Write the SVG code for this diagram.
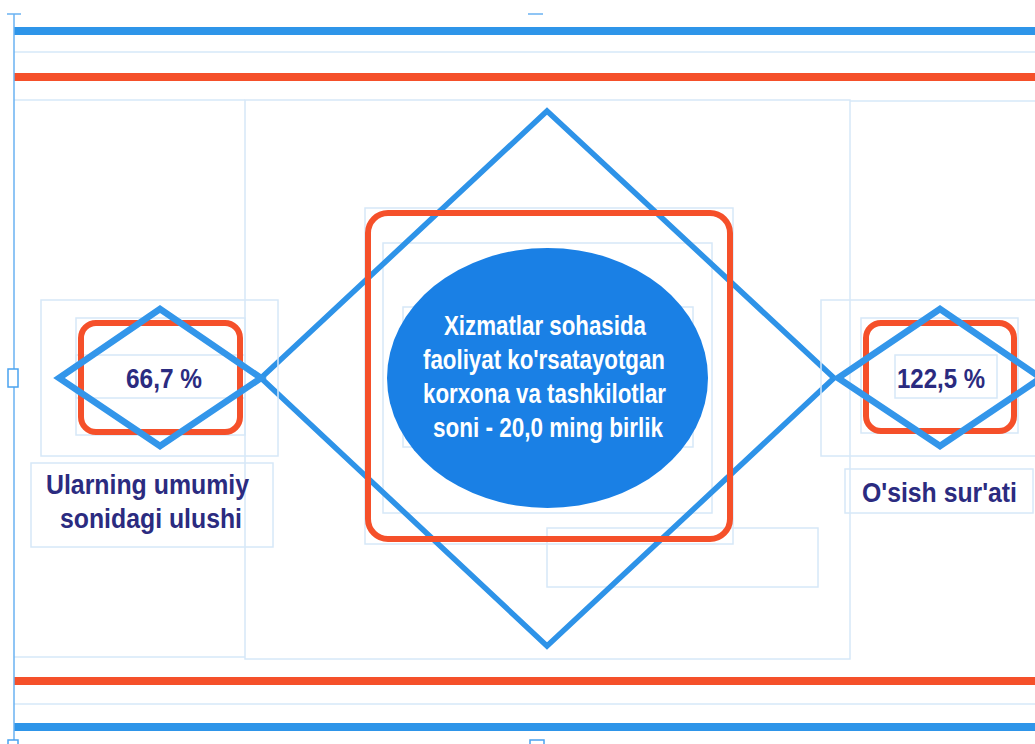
<svg xmlns="http://www.w3.org/2000/svg" width="1035" height="744" viewBox="0 0 1035 744">
<style>
.guide{fill:none;stroke:#d6e8f8;stroke-width:1.5}
.sel{fill:none;stroke:#6ab2f2;stroke-width:1.5}
.blue{fill:none;stroke:#2e93e8;stroke-width:5.5;stroke-linejoin:miter}
.blue2{fill:none;stroke:#3396ea;stroke-width:6.5;stroke-linejoin:miter}
.red{fill:none;stroke:#f5502a;stroke-width:6}
.num{font-family:"Liberation Sans",Arial,sans-serif;font-weight:bold;fill:#2b2b80;text-anchor:middle}
.cap{font-family:"Liberation Sans",Arial,sans-serif;font-weight:bold;fill:#2b2b80;font-size:27px}
.wt{font-family:"Liberation Sans",Arial,sans-serif;font-weight:bold;fill:#ffffff;font-size:27px}
</style>
<rect width="1035" height="744" fill="#ffffff"/>
<g id="frame">
<line x1="14" y1="52" x2="1035" y2="52" class="guide" stroke-width="3"/>
<line x1="14" y1="100" x2="245" y2="100" class="guide" stroke-width="2.5"/>
<line x1="850" y1="101" x2="1035" y2="101" class="guide" stroke-width="2.5"/>
<line x1="14" y1="657" x2="245" y2="657" class="guide" stroke-width="2.5"/>
<line x1="14" y1="704" x2="1035" y2="704" class="guide" stroke-width="3"/>
<rect x="14" y="27" width="1021" height="8" fill="#2e95e9"/>
<rect x="14" y="73" width="1021" height="8" fill="#f5502a"/>
<rect x="14" y="677" width="1021" height="8" fill="#f5502a"/>
<rect x="14" y="723" width="1021" height="8" fill="#2e95e9"/>
<line x1="14" y1="14" x2="14" y2="744" class="sel"/>
<line x1="7" y1="14" x2="21" y2="14" class="sel" stroke-width="2"/>
<line x1="528" y1="14" x2="543" y2="14" class="sel" stroke-width="2"/>
<rect x="8" y="369" width="10" height="18" fill="#ffffff" stroke="#4aa3ef" stroke-width="1.5"/>
<rect x="8" y="740" width="10" height="8" fill="#ffffff" stroke="#4aa3ef" stroke-width="1.5"/>
<rect x="530" y="740" width="14" height="8" fill="#ffffff" stroke="#4aa3ef" stroke-width="1.5"/>
</g>
<g id="center">
<rect x="245" y="100" width="605" height="559" class="guide"/>
<rect x="365" y="208" width="368" height="336" class="guide"/>
<rect x="383" y="243" width="329" height="270" class="guide"/>
<rect x="403" y="307" width="290" height="140" class="guide"/>
<rect x="547" y="528" width="271" height="59" class="guide"/>
<polygon points="547,111 834,378 547,646 261,378" class="blue"/>
<rect x="368" y="213" width="362" height="326" rx="20" class="red"/>
<ellipse cx="547.5" cy="378" rx="160.5" ry="130" fill="#1a80e5"/>
<text class="wt" x="444" y="335" textLength="202" lengthAdjust="spacingAndGlyphs">Xizmatlar sohasida</text>
<text class="wt" x="423" y="369" textLength="242" lengthAdjust="spacingAndGlyphs">faoliyat ko'rsatayotgan</text>
<text class="wt" x="423" y="403" textLength="243" lengthAdjust="spacingAndGlyphs">korxona va tashkilotlar</text>
<text class="wt" x="433" y="437" textLength="230" lengthAdjust="spacingAndGlyphs">soni - 20,0 ming birlik</text>
</g>
<g id="left">
<rect x="41" y="300" width="237" height="156" class="guide"/>
<rect x="76" y="318" width="169" height="117" class="guide"/>
<rect x="76" y="355" width="169" height="43" class="guide"/>
<rect x="31" y="463" width="242" height="84" class="guide"/>
<rect x="81" y="323" width="159" height="109" rx="15" class="red"/>
<polygon points="160,309 261,378 160,446 59,378" class="blue2"/>
<text class="num" x="164" y="388" font-size="27" textLength="76" lengthAdjust="spacingAndGlyphs">66,7 %</text>
<text class="cap" x="46" y="494" textLength="203" lengthAdjust="spacingAndGlyphs">Ularning umumiy</text>
<text class="cap" x="60" y="528" textLength="182" lengthAdjust="spacingAndGlyphs">sonidagi ulushi</text>
</g>
<g id="right">
<rect x="821" y="300" width="220" height="156" class="guide"/>
<rect x="861" y="318" width="157" height="115" class="guide"/>
<rect x="895" y="355" width="102" height="43" class="guide"/>
<rect x="845" y="469" width="188" height="44" class="guide"/>
<rect x="866" y="323" width="148" height="108" rx="15" class="red"/>
<polygon points="940,309 1041,378 940,446 838,378" class="blue2"/>
<text class="num" x="941" y="388" font-size="27" textLength="88" lengthAdjust="spacingAndGlyphs">122,5 %</text>
<text class="cap" x="862" y="502" textLength="155" lengthAdjust="spacingAndGlyphs">O'sish sur'ati</text>
</g>
</svg>
